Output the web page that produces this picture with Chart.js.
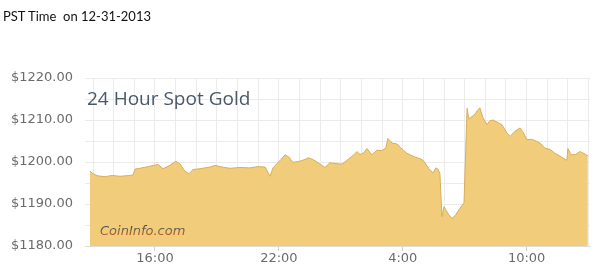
<!DOCTYPE html>
<html>
<head>
<meta charset="utf-8">
<script src="https://cdn.jsdelivr.net/npm/chart.js@4/dist/chart.umd.min.js"></script>
<style>
  body { margin: 0; background: #fff; }
  #wrap { position: relative; width: 600px; height: 272px; }
  #note { position: absolute; left: 3px; top: 8px; font: 13px Lato, "Open Sans", sans-serif; color: #111; white-space: pre; }
  #gold { position: absolute; left: 0; top: 0; }
</style>
</head>
<body>
<div id="wrap">
  <canvas id="gold" width="600" height="272"></canvas>
  <div id="note">PST Time  on 12-31-2013</div>
</div>
<script>
// spot price samples, Pacific time, 12-30 12:51 through 12-31 12:58
const TIMES = [
    '12:51', '13:00', '13:14', '13:35', '13:55', '14:18', '14:47', '14:56', '15:02', '15:22',
    '15:45', '16:09', '16:23', '16:43', '17:01', '17:13', '17:27', '17:39', '17:50', '18:11',
    '18:40', '18:54', '19:15', '19:38', '20:07', '20:36', '20:59', '21:20', '21:34', '21:43',
    '21:57', '22:06', '22:18', '22:29', '22:41', '23:01', '23:16', '23:25', '23:39', '23:54',
    '00:14', '00:28', '00:49', '01:03', '01:15', '01:27', '01:38', '01:47', '01:56', '02:07',
    '02:16', '02:30', '02:45', '03:00', '03:11', '03:17', '03:29', '03:43', '03:52', '04:03',
    '04:12', '04:24', '04:35', '04:50', '04:59', '05:07', '05:16', '05:28', '05:36', '05:42',
    '05:48', '05:54', '06:00', '06:05', '06:14', '06:23', '06:32', '06:40', '06:49', '06:58',
    '07:07', '07:12', '07:21', '07:30', '07:38', '07:44', '07:53', '08:05', '08:13', '08:22',
    '08:34', '08:48', '09:03', '09:12', '09:26', '09:41', '09:49', '10:01', '10:15', '10:27',
    '10:39', '10:53', '11:08', '11:22', '11:37', '11:51', '11:57', '12:00', '12:09', '12:23',
    '12:35', '12:47', '12:58'
];
const PRICES = [
    1197.8, 1197.2, 1196.7, 1196.5, 1196.8, 1196.6, 1196.8, 1196.9, 1198.3, 1198.6,
    1199.0, 1199.4, 1198.4, 1199.2, 1200.2, 1199.5, 1197.8, 1197.2, 1198.2, 1198.4,
    1198.8, 1199.2, 1198.8, 1198.5, 1198.7, 1198.6, 1198.9, 1198.8, 1196.6, 1198.6,
    1199.8, 1200.6, 1201.7, 1201.2, 1199.9, 1200.2, 1200.6, 1201.0, 1200.6, 1199.8,
    1198.7, 1199.8, 1199.6, 1199.5, 1200.2, 1201.0, 1201.7, 1202.5, 1201.8, 1202.2,
    1203.2, 1201.7, 1202.8, 1202.7, 1203.4, 1205.6, 1204.5, 1204.3, 1203.6, 1202.7,
    1202.1, 1201.6, 1201.2, 1200.8, 1200.4, 1199.5, 1198.4, 1197.4, 1198.6, 1198.3,
    1197.3, 1187.0, 1189.4, 1188.6, 1187.4, 1186.6, 1187.2, 1188.2, 1189.3, 1190.3,
    1212.8, 1210.3, 1210.8, 1211.4, 1212.4, 1212.9, 1210.6, 1208.9, 1209.8, 1210.0,
    1209.5, 1208.9, 1206.9, 1206.1, 1207.3, 1208.1, 1207.2, 1205.3, 1205.4, 1205.0,
    1204.5, 1203.3, 1203.0, 1202.1, 1201.4, 1200.7, 1200.4, 1203.2, 1201.7, 1201.8,
    1202.5, 1202.0, 1201.5
];
const Y_MIN = 1180;
const Y_MAX = 1220;
const HOUR_LABELS = [16, 22, 28, 34];   // shown on the time axis (28 = 4:00, 34 = 10:00)

// times run past midnight, so count hours from the first day's 0:00
function toHours(times) {
    let day = 0, prev = -1;
    return times.map(t => {
        const [h, m] = t.split(':').map(Number);
        let v = h + m / 60 + day;
        if (v < prev) { day += 24; v += 24; }
        prev = v;
        return v;
    });
}

const hours = toHours(TIMES);
const points = hours.map((h, i) => ({ x: h, y: PRICES[i] }));

const overlayText = {
    id: 'overlayText',
    afterDatasetsDraw(chart) {
        const { ctx, chartArea } = chart;
        ctx.save();
        ctx.font = '19px "Open Sans", sans-serif';
        ctx.fillStyle = '#4a586b';
        ctx.textBaseline = 'middle';
        ctx.fillText('24 Hour Spot Gold', chartArea.left + 2, chartArea.top + 22);

        ctx.font = 'italic 13px "DejaVu Sans", sans-serif';
        const top = chartArea.bottom - 21;
        const g = ctx.createLinearGradient(0, top, 0, top + 12);
        g.addColorStop(0, '#2d3f73');
        g.addColorStop(0.5, '#8a6a3a');
        g.addColorStop(1, '#d0492a');
        ctx.fillStyle = g;
        ctx.textBaseline = 'top';
        ctx.fillText('CoinInfo.com', chartArea.left + 15, top);
        ctx.restore();
    }
};

new Chart(document.getElementById('gold'), {
    type: 'line',
    data: {
        datasets: [{
            data: points,
            borderColor: '#d6ae5c',
            backgroundColor: '#f1cd7b',
            borderWidth: 1,
            pointRadius: 0,
            tension: 0,
            fill: 'start'
        }]
    },
    options: {
        responsive: false,
        animation: false,
        layout: { padding: { top: 78, right: 10, left: 0, bottom: 0 } },
        plugins: {
            legend: { display: false },
            tooltip: { enabled: false }
        },
        scales: {
            x: {
                type: 'linear',
                min: 12.61,
                max: 37.07,
                afterFit: s => { s.height = 26; },
                border: { color: '#dcdcdc' },
                grid: {
                    color: '#ebebeb',
                    tickLength: 5,
                    tickColor: c => HOUR_LABELS.includes(c.tick && c.tick.value) ? '#cfcfcf' : 'rgba(0,0,0,0)'
                },
                ticks: {
                    stepSize: 1,
                    includeBounds: false,
                    autoSkip: false,
                    maxRotation: 0,
                    padding: 0,
                    color: '#6b6b6b',
                    font: { family: 'DejaVu Sans', size: 13 },
                    callback: v => HOUR_LABELS.includes(v) ? (v % 24) + ':00' : ''
                }
            },
            y: {
                min: Y_MIN,
                max: Y_MAX,
                afterFit: s => { s.width = 85; },
                border: { display: false },
                grid: { color: '#ebebeb', drawTicks: false },
                ticks: {
                    stepSize: 5,
                    padding: 12,
                    color: '#6b6b6b',
                    font: { family: 'DejaVu Sans', size: 13 },
                    callback: v => v % 10 === 0 ? '$' + v.toFixed(2) : ''
                }
            }
        }
    },
    plugins: [overlayText]
});
</script>
</body>
</html>
